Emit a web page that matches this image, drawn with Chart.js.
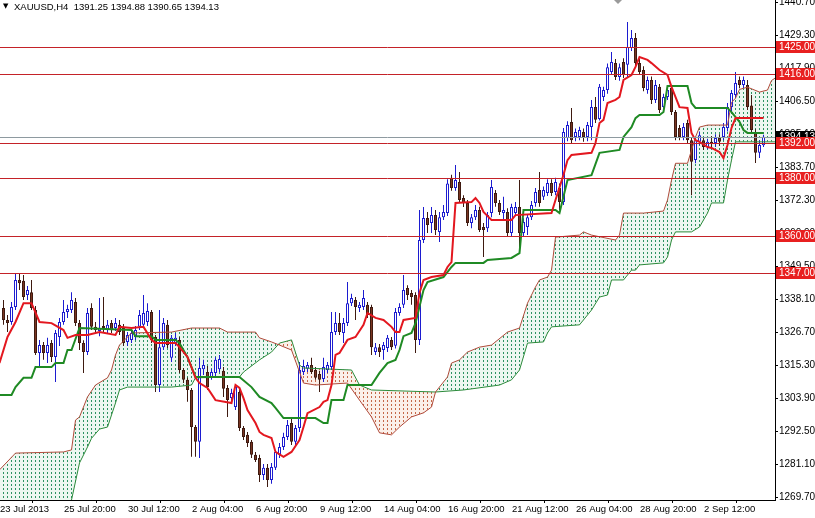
<!DOCTYPE html>
<html>
<head>
<meta charset="utf-8">
<title>XAUUSD H4</title>
<script src="https://cdn.jsdelivr.net/npm/chart.js@4.4.1/dist/chart.umd.min.js"></script>
<style>
  html, body { margin: 0; padding: 0; background: #fff; }
  #wrap { width: 815px; height: 518px; }
</style>
</head>
<body>
<div id="wrap"><canvas id="c" width="815" height="518"></canvas></div>
<script>
// XAUUSD H4 candles + Ichimoku

const header = 'XAUUSD,H4  1391.25 1394.88 1390.65 1394.13';
const xTickLabels = ['23 Jul 2013', '25 Jul 20:00', '30 Jul 12:00', '2 Aug 04:00', '6 Aug 20:00', '9 Aug 12:00',
  '14 Aug 04:00', '16 Aug 20:00', '21 Aug 12:00', '26 Aug 04:00', '28 Aug 20:00', '2 Sep 12:00'];
const yTicks = [1269.7, 1281.1, 1292.5, 1303.9, 1315.3, 1326.7, 1338.1, 1349.5, 1360.9, 1372.3,
  1383.7, 1395.1, 1406.5, 1417.9, 1429.3, 1440.7];

const levels = [1425, 1416, 1392, 1380, 1360, 1347];
const lastPrice = 1394.13;

const opens = [
  1335.0, 1330.9, 1330.2, 1335.4, 1344.7, 1344.4, 1339.5, 1340.5, 1334.3, 1319.5,
  1322.2, 1319.5, 1322.9, 1318.1, 1325.0, 1330.2, 1333.6, 1334.3, 1337.1, 1329.8,
  1322.9, 1319.8, 1335.0, 1328.5, 1327.1, 1328.8, 1327.4, 1329.8, 1328.1, 1329.2,
  1328.1, 1323.3, 1324.0, 1325.0, 1328.5, 1329.2, 1330.2, 1333.6, 1325.0, 1308.4,
  1321.5, 1329.2, 1317.8, 1322.9, 1324.0, 1313.6, 1310.2, 1306.7, 1293.9, 1288.8,
  1313.9, 1312.9, 1311.2, 1312.6, 1313.9, 1313.3, 1307.4, 1303.9, 1300.8, 1306.0,
  1293.6, 1291.2, 1288.8, 1284.3, 1283.2, 1277.3, 1279.8, 1275.6, 1279.8, 1284.3,
  1287.0, 1290.5, 1295.3, 1288.8, 1293.6, 1312.9, 1314.0, 1315.3, 1313.6, 1312.2,
  1310.5, 1313.6, 1314.6, 1326.7, 1329.8, 1326.4, 1329.8, 1336.7, 1337.8, 1335.0,
  1335.4, 1336.1, 1335.4, 1319.8, 1321.5, 1320.5, 1321.2, 1324.0, 1322.0, 1333.3,
  1336.1, 1341.9, 1340.2, 1339.5, 1324.0, 1358.5, 1366.1, 1364.4, 1367.1, 1361.3,
  1366.4, 1367.8, 1380.0, 1376.5, 1378.5, 1373.0, 1371.3, 1364.4, 1366.4, 1368.9,
  1363.0, 1362.6, 1367.8, 1374.7, 1371.3, 1367.8, 1368.2, 1360.9, 1367.8, 1369.9,
  1360.9, 1363.0, 1366.4, 1371.3, 1375.8, 1373.4, 1374.7, 1378.2, 1375.1, 1376.5,
  1371.6, 1393.7, 1399.3, 1394.1, 1394.1, 1395.8, 1394.1, 1397.5, 1404.4, 1400.3,
  1407.9, 1410.3, 1416.5, 1419.6, 1414.8, 1420.0, 1419.0, 1424.8, 1428.3, 1419.6,
  1417.2, 1410.3, 1413.8, 1406.9, 1411.4, 1404.4, 1407.9, 1411.0, 1402.7, 1397.2,
  1394.1, 1398.9, 1393.0, 1386.1, 1392.4, 1393.0, 1390.6, 1392.4, 1392.0, 1393.7,
  1394.1, 1397.2, 1404.4, 1408.6, 1413.8, 1412.0, 1412.0, 1405.0, 1395.8, 1388.6,
  1391.25
];
const highs = [
  1337.8, 1332.6, 1337.1, 1347.1, 1347.1, 1346.4, 1342.6, 1344.7, 1335.7, 1324.0,
  1323.3, 1324.7, 1324.0, 1327.4, 1331.6, 1337.8, 1336.1, 1340.5, 1338.5, 1330.9,
  1323.9, 1335.0, 1336.7, 1330.2, 1338.5, 1338.8, 1330.9, 1330.9, 1331.6, 1330.9,
  1329.5, 1326.7, 1327.4, 1328.8, 1334.3, 1339.5, 1336.7, 1334.3, 1325.7, 1334.3,
  1331.6, 1330.9, 1325.7, 1326.4, 1325.0, 1314.3, 1311.0, 1307.4, 1294.6, 1317.8,
  1317.1, 1315.0, 1314.0, 1318.1, 1318.8, 1314.6, 1308.4, 1307.1, 1308.8, 1307.4,
  1294.3, 1292.2, 1289.4, 1285.3, 1284.3, 1281.1, 1281.1, 1281.5, 1286.0, 1288.4,
  1291.9, 1296.3, 1297.0, 1294.6, 1316.4, 1317.1, 1316.4, 1317.8, 1314.6, 1313.3,
  1317.8, 1316.4, 1333.6, 1333.6, 1333.3, 1331.6, 1344.0, 1339.9, 1338.8, 1337.1,
  1341.2, 1337.1, 1336.1, 1322.9, 1322.6, 1323.3, 1325.7, 1325.0, 1335.0, 1336.7,
  1346.4, 1342.9, 1341.2, 1340.5, 1368.9, 1369.9, 1368.2, 1369.9, 1368.9, 1368.2,
  1370.6, 1379.5, 1381.0, 1384.4, 1382.0, 1374.0, 1372.3, 1367.5, 1370.6, 1370.0,
  1364.4, 1368.2, 1379.2, 1375.8, 1372.3, 1373.4, 1369.5, 1371.0, 1371.6, 1379.2,
  1366.0, 1367.5, 1372.0, 1376.5, 1382.0, 1377.0, 1379.5, 1379.5, 1380.0, 1378.0,
  1397.2, 1399.5, 1404.1, 1397.0, 1397.6, 1397.0, 1399.3, 1406.9, 1407.9, 1412.4,
  1411.4, 1419.5, 1423.4, 1421.0, 1419.5, 1421.3, 1433.8, 1431.0, 1430.0, 1421.0,
  1418.5, 1415.0, 1415.0, 1413.8, 1412.4, 1409.0, 1411.4, 1412.0, 1403.4, 1398.2,
  1398.9, 1400.0, 1394.0, 1394.0, 1396.0, 1394.0, 1393.5, 1394.4, 1395.0, 1395.0,
  1398.9, 1405.8, 1410.3, 1416.5, 1415.0, 1415.0, 1413.8, 1408.6, 1396.8, 1393.0,
  1394.88
];
const lows = [
  1329.2, 1326.7, 1329.2, 1334.3, 1341.2, 1337.8, 1337.8, 1334.3, 1318.8, 1314.3,
  1317.1, 1316.0, 1316.4, 1309.5, 1321.9, 1329.2, 1331.6, 1333.3, 1328.8, 1320.5,
  1312.6, 1318.8, 1327.4, 1326.0, 1325.3, 1326.4, 1326.4, 1326.4, 1327.1, 1325.7,
  1321.9, 1321.9, 1322.9, 1324.0, 1327.4, 1328.1, 1328.8, 1322.9, 1306.0, 1306.0,
  1320.5, 1321.2, 1316.4, 1321.9, 1312.6, 1309.1, 1302.6, 1283.6, 1283.6, 1283.2,
  1311.9, 1306.7, 1310.2, 1310.9, 1312.9, 1304.3, 1297.4, 1302.6, 1299.8, 1292.5,
  1289.4, 1287.0, 1283.2, 1281.8, 1274.9, 1275.6, 1273.2, 1274.3, 1279.1, 1283.2,
  1286.0, 1289.4, 1287.7, 1287.3, 1292.2, 1311.9, 1312.9, 1312.2, 1310.2, 1306.0,
  1309.5, 1312.6, 1313.6, 1325.7, 1325.7, 1322.9, 1328.8, 1335.7, 1330.9, 1333.6,
  1334.3, 1331.6, 1318.8, 1318.8, 1318.1, 1317.1, 1319.8, 1320.5, 1321.0, 1332.3,
  1335.0, 1337.8, 1336.1, 1319.5, 1322.2, 1357.5, 1360.9, 1360.9, 1360.2, 1357.8,
  1365.4, 1366.8, 1375.5, 1375.5, 1371.3, 1369.9, 1363.3, 1362.6, 1365.4, 1361.3,
  1352.6, 1361.3, 1366.4, 1370.0, 1367.1, 1365.4, 1359.9, 1359.9, 1366.8, 1355.0,
  1359.5, 1360.2, 1365.4, 1370.0, 1370.0, 1372.3, 1373.7, 1373.7, 1374.0, 1368.9,
  1370.6, 1392.6, 1392.0, 1392.6, 1393.0, 1392.4, 1392.6, 1393.0, 1398.9, 1399.8,
  1406.5, 1409.0, 1415.5, 1413.8, 1413.5, 1414.5, 1414.8, 1423.8, 1418.5, 1415.5,
  1409.9, 1409.0, 1405.5, 1405.8, 1402.4, 1403.0, 1406.9, 1401.7, 1393.0, 1393.0,
  1393.0, 1392.0, 1374.0, 1385.0, 1391.3, 1389.6, 1389.9, 1390.3, 1390.6, 1391.0,
  1393.0, 1396.0, 1403.0, 1407.5, 1410.9, 1410.9, 1403.4, 1395.5, 1385.1, 1386.8,
  1390.65
];
const closes = [
  1330.9, 1329.8, 1335.4, 1344.7, 1343.6, 1338.8, 1341.2, 1335.0, 1319.5, 1322.2,
  1319.5, 1322.2, 1318.1, 1326.4, 1330.2, 1333.6, 1334.7, 1337.8, 1329.8, 1322.9,
  1319.8, 1333.3, 1328.5, 1327.4, 1328.1, 1328.1, 1329.2, 1327.4, 1329.8, 1326.7,
  1322.9, 1325.7, 1326.4, 1327.4, 1332.6, 1333.3, 1334.0, 1324.0, 1308.4, 1321.5,
  1329.8, 1322.2, 1324.7, 1324.7, 1313.6, 1310.2, 1306.7, 1293.9, 1288.8, 1314.3,
  1315.3, 1307.7, 1312.9, 1317.1, 1317.4, 1307.1, 1303.2, 1305.7, 1307.7, 1293.6,
  1290.5, 1288.4, 1284.3, 1282.5, 1277.3, 1279.8, 1275.6, 1280.1, 1285.3, 1287.0,
  1290.5, 1294.6, 1288.8, 1293.6, 1313.6, 1315.0, 1315.3, 1312.9, 1310.9, 1310.2,
  1314.6, 1315.3, 1326.7, 1329.8, 1326.7, 1329.8, 1336.7, 1338.5, 1335.4, 1336.1,
  1338.5, 1332.6, 1321.5, 1321.5, 1319.8, 1322.2, 1324.7, 1321.5, 1333.6, 1335.4,
  1341.2, 1339.5, 1338.8, 1324.0, 1358.5, 1366.1, 1363.7, 1367.1, 1362.0, 1366.4,
  1368.2, 1378.0, 1376.5, 1379.2, 1372.3, 1371.3, 1364.4, 1366.4, 1368.9, 1362.0,
  1362.0, 1367.1, 1376.8, 1371.3, 1368.2, 1368.9, 1360.9, 1369.9, 1369.9, 1360.9,
  1364.7, 1366.4, 1370.6, 1375.1, 1371.3, 1375.8, 1378.2, 1374.7, 1378.5, 1371.6,
  1395.8, 1398.2, 1393.0, 1395.8, 1396.5, 1394.1, 1398.2, 1404.4, 1400.0, 1411.4,
  1410.3, 1418.2, 1420.0, 1414.8, 1418.2, 1415.5, 1425.2, 1428.3, 1419.6, 1416.5,
  1411.0, 1413.8, 1406.9, 1412.0, 1403.4, 1407.9, 1410.3, 1402.7, 1394.1, 1394.1,
  1397.5, 1393.0, 1385.5, 1393.0, 1394.7, 1390.6, 1392.4, 1392.0, 1393.7, 1392.4,
  1397.5, 1404.4, 1409.3, 1412.7, 1412.0, 1413.8, 1404.4, 1396.5, 1388.6, 1391.3,
  1394.13
];

// Ichimoku lines as [bar, price] vertices where the line turns
const tenkan = [[-1,1316.0],[1,1325.0],[3,1330.2],[5,1336.7],[7,1336.7],[9,1330.2],[12,1329.8],[15,1327.4],
  [16,1324.7],[18,1325.7],[21,1325.7],[24,1326.7],[28,1325.7],[29,1328.5],[32,1328.1],[35,1328.5],[37,1324.0],
  [38,1322.9],[43,1322.9],[44,1321.5],[46,1318.1],[48,1310.9],[49,1309.1],[51,1307.4],[53,1303.2],[57,1302.2],
  [58,1308.4],[59,1307.4],[60,1303.9],[61,1299.8],[63,1295.3],[64,1292.2],[65,1291.2],[67,1290.1],[68,1285.3],
  [70,1283.6],[72,1285.3],[74,1289.4],[75,1293.9],[76,1298.7],[79,1300.8],[80,1302.6],[81,1303.2],[82,1308.4],
  [83,1318.8],[84,1319.5],[86,1324.0],[88,1325.0],[90,1329.2],[91,1333.3],[93,1331.6],[95,1330.9],[97,1328.5],
  [98,1326.7],[99,1326.7],[100,1330.9],[103,1331.6],[104,1340.2],[105,1344.7],[107,1345.7],[110,1346.4],
  [111,1349.2],[112,1350.9],[113,1371.3],[117,1371.6],[118,1373.0],[119,1371.3],[120,1368.2],[122,1365.4],
  [127,1365.4],[128,1367.1],[137,1367.8],[138,1372.3],[140,1381.0],[141,1386.1],[142,1387.9],[147,1388.6],
  [148,1392.0],[149,1398.9],[150,1400.0],[151,1405.8],[153,1406.9],[154,1407.9],[155,1413.8],[157,1415.5],
  [158,1418.3],[159,1421.7],[161,1420.7],[162,1419.6],[164,1417.2],[166,1415.5],[167,1411.4],[169,1404.4],
  [171,1404.1],[172,1395.5],[173,1393.0],[174,1392.4],[176,1390.6],[177,1390.3],[179,1388.9],[180,1386.8],
  [181,1391.3],[182,1397.2],[183,1400.6],[190,1400.6]];
const kijun = [[-1,1305.0],[2,1305.0],[3,1307.7],[5,1310.9],[7,1310.9],[8,1314.6],[12,1314.6],[13,1316.0],
  [15,1316.0],[16,1320.5],[17,1320.5],[19,1328.1],[32,1327.4],[33,1325.3],[37,1325.3],[38,1324.0],[43,1324.0],
  [44,1322.9],[46,1318.0],[48,1311.2],[59,1311.2],[62,1307.7],[64,1304.3],[67,1302.2],[68,1300.5],[70,1297.0],
  [78,1297.0],[80,1295.3],[81,1295.3],[82,1303.2],[85,1303.2],[86,1308.4],[92,1308.4],[94,1312.6],[96,1316.0],
  [98,1317.1],[99,1320.5],[100,1325.3],[102,1326.4],[103,1329.8],[105,1341.2],[106,1344.0],[110,1345.7],
  [112,1349.2],[113,1350.6],[120,1350.6],[121,1351.6],[127,1352.3],[129,1354.0],[130,1368.9],[138,1368.9],
  [139,1367.8],[141,1379.2],[147,1380.9],[149,1388.6],[154,1389.6],[155,1394.1],[157,1397.5],[158,1400.6],
  [159,1401.7],[164,1401.7],[165,1402.7],[166,1411.7],[171,1411.7],[172,1405.8],[173,1404.1],[181,1404.1],
  [182,1402.7],[184,1399.3],[185,1396.5],[186,1395.5],[190,1395.5]];
const spanA = [[-1,1279.1],[3,1284.9],[15,1285.3],[17,1286.0],[18,1296.3],[19,1297.4],[21,1304.3],[23,1308.4],
  [26,1310.9],[27,1313.6],[28,1318.8],[29,1322.2],[31,1325.0],[32,1326.4],[42,1326.7],[47,1328.1],[54,1328.1],
  [56,1326.7],[63,1326.7],[64,1324.7],[67,1323.3],[69,1322.2],[72,1320.5],[74,1312.9],[75,1309.1],[78,1308.4],
  [86,1309.1],[89,1303.2],[92,1297.4],[94,1291.9],[97,1291.2],[99,1293.9],[102,1297.4],[105,1298.8],
  [107,1300.8],[108,1306.0],[111,1311.2],[112,1316.0],[114,1317.1],[116,1319.8],[119,1321.5],[122,1322.2],
  [126,1326.7],[129,1328.1],[131,1336.7],[133,1342.3],[134,1344.7],[136,1345.7],[137,1348.1],[138,1359.5],
  [144,1360.2],[145,1361.3],[147,1360.2],[153,1358.5],[154,1360.2],[155,1367.8],[160,1367.8],[165,1368.5],
  [166,1372.3],[167,1379.2],[168,1385.0],[171,1385.0],[173,1394.1],[174,1397.5],[176,1398.2],[181,1398.2],
  [182,1406.0],[183,1407.5],[184,1410.5],[186,1411.3],[189,1409.6],[191,1410.3],[192,1413.6],[193,1414.5]];
const spanB = [[-1,1261.8],[16,1261.8],[17,1268.7],[19,1281.5],[21,1287.0],[22,1290.0],[24,1293.2],[26,1293.9],
  [28,1302.2],[29,1306.7],[31,1307.7],[42,1307.7],[47,1308.4],[48,1310.9],[59,1311.2],[60,1312.9],[64,1317.1],
  [67,1319.8],[69,1322.9],[72,1324.0],[74,1315.3],[75,1314.3],[87,1313.6],[89,1308.4],[92,1306.7],[108,1306.0],
  [115,1306.7],[124,1308.4],[127,1310.2],[129,1313.6],[131,1322.9],[135,1323.3],[136,1326.4],[137,1328.5],
  [144,1329.2],[147,1334.3],[149,1338.8],[151,1339.5],[152,1344.7],[155,1344.7],[157,1348.1],[158,1348.1],
  [159,1349.9],[165,1350.6],[166,1352.6],[167,1358.5],[168,1361.3],[172,1361.3],[174,1363.0],[176,1367.8],
  [177,1371.3],[180,1371.3],[181,1379.2],[182,1386.1],[183,1392.4],[193,1392.4]];

const BULL = '#1c1cd0';
const BEAR_FILL = '#7a3522';
const BEAR_LINE = '#3e1a10';
const LEVEL_LINE = '#c42228';
const LEVEL_TAG = '#e82020';
const FONT = '"Liberation Sans", Arial, sans-serif';

Chart.defaults.font.family = FONT;
Chart.defaults.font.size = 10;
Chart.defaults.color = '#000';

const canvas = document.getElementById('c');
const ctx = canvas.getContext('2d');

// MT4 draws the kumo as dotted vertical histogram lines, one per bar (4px apart)
function dotPattern(tint, color) {
  const t = document.createElement('canvas');
  t.width = 4; t.height = 4;
  const g = t.getContext('2d');
  g.fillStyle = tint;
  g.fillRect(0, 0, 4, 4);
  g.fillStyle = color;
  g.fillRect(3, 0, 1, 2);
  return ctx.createPattern(t, 'repeat');
}
const greenKumo = dotPattern('rgba(214,238,224,0.45)', 'rgb(44,146,98)');
const brownKumo = dotPattern('rgba(246,222,208,0.45)', 'rgb(196,104,72)');

const isBull = closes.map((c, i) => c >= opens[i]);
const pts = arr => arr.map(p => ({ x: p[0], y: p[1] }));

const levelPlugin = {
  id: 'mtLevels',
  afterDatasetsDraw(chart) {
    const { ctx, chartArea: a, scales: { y } } = chart;
    ctx.save();
    ctx.lineWidth = 1;
    const py = Math.round(y.getPixelForValue(lastPrice)) + 0.5;
    ctx.strokeStyle = '#8e9aa0';
    ctx.beginPath(); ctx.moveTo(a.left, py); ctx.lineTo(a.right, py); ctx.stroke();
    ctx.strokeStyle = LEVEL_LINE;
    levels.forEach(v => {
      const ly = Math.round(y.getPixelForValue(v)) + 0.5;
      ctx.beginPath(); ctx.moveTo(a.left, ly); ctx.lineTo(a.right, ly); ctx.stroke();
    });
    ctx.restore();
  },
  afterDraw(chart) {
    const { ctx, chartArea: a, scales: { y } } = chart;
    ctx.save();
    ctx.font = '10px ' + FONT;
    ctx.textBaseline = 'middle';
    const tag = (v, bg) => {
      const ty = Math.round(y.getPixelForValue(v));
      ctx.fillStyle = bg;
      ctx.fillRect(a.right + 1, ty - 6, chart.width - a.right - 1, 12);
      ctx.fillStyle = '#fff';
      ctx.fillText(v.toFixed(2), a.right + 4, ty + 0.5);
    };
    tag(lastPrice, '#000');
    levels.forEach(v => tag(v, LEVEL_TAG));

    // symbol header, top left
    ctx.fillStyle = '#000';
    ctx.font = '9.5px ' + FONT;
    ctx.fillText(header, 14, 7);
    ctx.font = '7px "DejaVu Sans", sans-serif';
    ctx.fillText('\u25BC', 3, 6);

    // chart shift marker
    ctx.fillStyle = '#9a9a9a';
    ctx.beginPath(); ctx.moveTo(614, 0); ctx.lineTo(622, 0); ctx.lineTo(618, 4); ctx.closePath(); ctx.fill();
    ctx.restore();
  }
};

new Chart(ctx, {
  type: 'bar',
  data: {
    datasets: [
      { type: 'line', label: 'Tenkan-sen', data: pts(tenkan), borderColor: '#e3171f', borderWidth: 2,
        pointRadius: 0, tension: 0, order: 1 },
      { type: 'line', label: 'Kijun-sen', data: pts(kijun), borderColor: '#1f8a24', borderWidth: 2,
        pointRadius: 0, tension: 0, order: 2 },
      { type: 'line', label: 'Senkou Span A', data: pts(spanA), borderColor: '#b04a3a', borderWidth: 1,
        pointRadius: 0, tension: 0, order: 3,
        fill: { target: 3, above: greenKumo, below: brownKumo } },
      { type: 'line', label: 'Senkou Span B', data: pts(spanB), borderColor: '#2a8a3a', borderWidth: 1,
        pointRadius: 0, tension: 0, order: 4 },
      { label: 'Body', data: opens.map((o, i) => ({ x: i, y: [o, closes[i]] })), grouped: false,
        barThickness: 3, minBarLength: 1, borderWidth: 1, borderSkipped: false, inflateAmount: 0,
        backgroundColor: isBull.map(b => b ? '#ffffff' : BEAR_FILL),
        borderColor: isBull.map(b => b ? BULL : BEAR_LINE), order: 5 },
      { label: 'Wick', data: highs.map((h, i) => ({ x: i, y: [lows[i], h] })), grouped: false,
        barThickness: 1, borderWidth: 0, inflateAmount: 0,
        backgroundColor: isBull.map(b => b ? BULL : BEAR_LINE), order: 6 }
    ]
  },
  options: {
    responsive: false,
    animation: false,
    devicePixelRatio: 1,
    layout: { padding: 0, autoPadding: false },
    plugins: {
      legend: { display: false },
      tooltip: { enabled: false },
      title: { display: false },
      filler: { drawTime: 'beforeDatasetsDraw' }   // kumo sits under the candles
    },
    scales: {
      x: {
        type: 'linear', min: -0.875, max: 192.875, offset: false,
        afterBuildTicks: s => { s.ticks = xTickLabels.map((t, k) => ({ value: 16 * k - 0.875 })); },
        afterFit: s => { s.height = 18; s.paddingLeft = 0; s.paddingRight = 0; },
        ticks: { autoSkip: false, maxRotation: 0, minRotation: 0, align: 'start', padding: 1,
          color: '#000', font: { size: 9.5 }, callback: (v, k) => xTickLabels[k] },
        grid: { drawOnChartArea: false, drawTicks: true, tickLength: 3, color: '#000' },
        border: { display: true, color: '#000', width: 1 }
      },
      y: {
        type: 'linear', position: 'right', min: 1268.7, max: 1441.4,
        afterBuildTicks: s => { s.ticks = yTicks.map(v => ({ value: v })); },
        afterFit: s => { s.width = 40; s.paddingTop = 0; s.paddingBottom = 0; },
        ticks: { padding: 1, color: '#000', callback: v => v.toFixed(2) },
        grid: { drawOnChartArea: false, drawTicks: true, tickLength: 3, color: '#000' },
        border: { display: true, color: '#000', width: 1 }
      }
    }
  },
  plugins: [levelPlugin]
});
</script>
</body>
</html>
